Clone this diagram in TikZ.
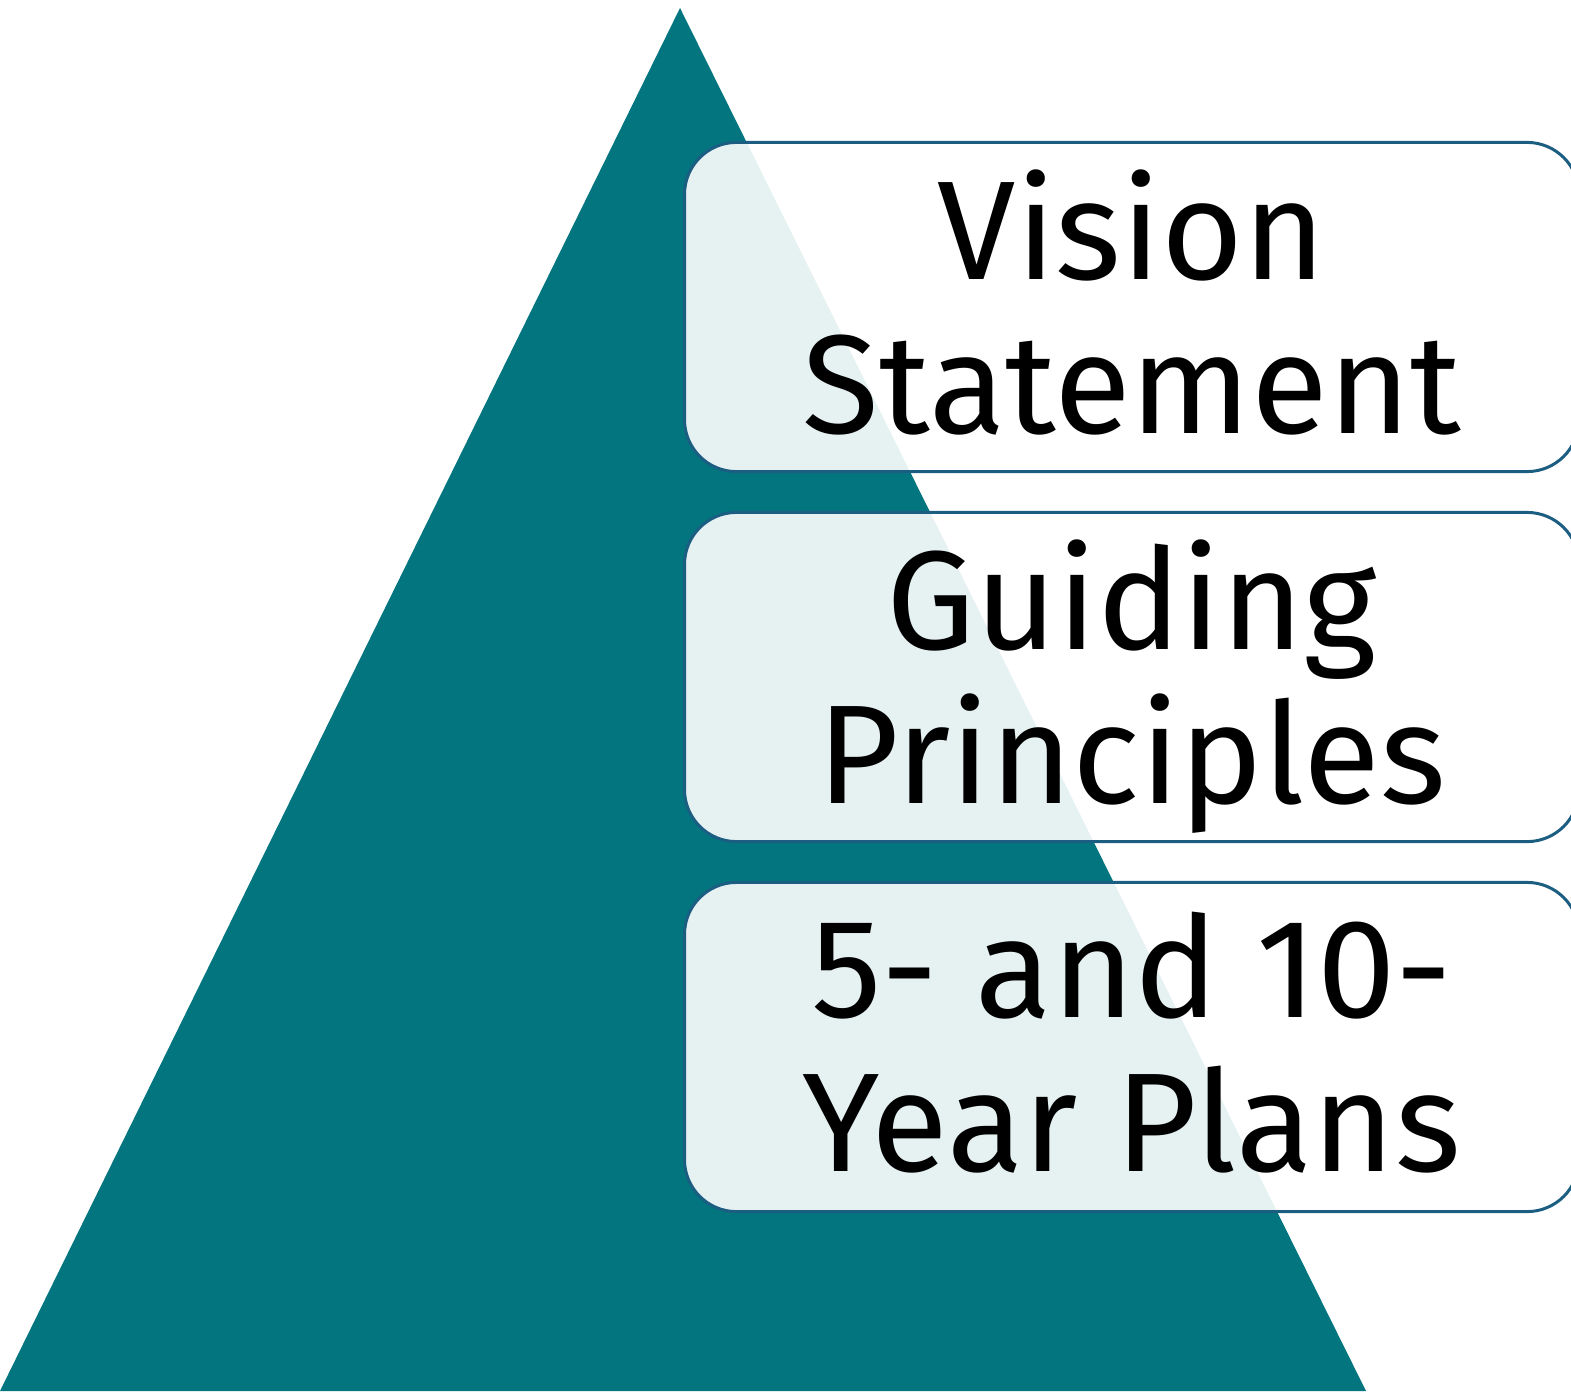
\documentclass[tikz,border=0pt]{standalone}
\usepackage{fontspec}
\setmainfont{Fira Sans}
\definecolor{pyrteal}{HTML}{02757F}
\definecolor{boxline}{HTML}{1B5E82}
\tikzset{
  level/.style={draw=boxline, line width=0.85pt, fill=white, fill opacity=0.9,
    text opacity=1, rounded corners=0.52cm, minimum width=8.94cm,
    minimum height=3.29cm, inner sep=0pt, anchor=west, align=center,
    font=\fontsize{40}{44}\selectfont, text depth=3pt}
}
\begin{document}
\begin{tikzpicture}[x=0.01cm,y=-0.01cm]
\useasboundingbox (0,0) rectangle (1571,1397);

% Pyramid
\fill[pyrteal] (680,8) -- (1366,1391) -- (0,1391) -- cycle;

% Levels
\node[level] (vision) at (683,307) {Vision\\Statement};
\node[level] (guiding) at (683,677) {Guiding\\Principles};
\node[level] (plans) at (683,1047) {5- and 10-\\Year Plans};
\end{tikzpicture}
\end{document}
